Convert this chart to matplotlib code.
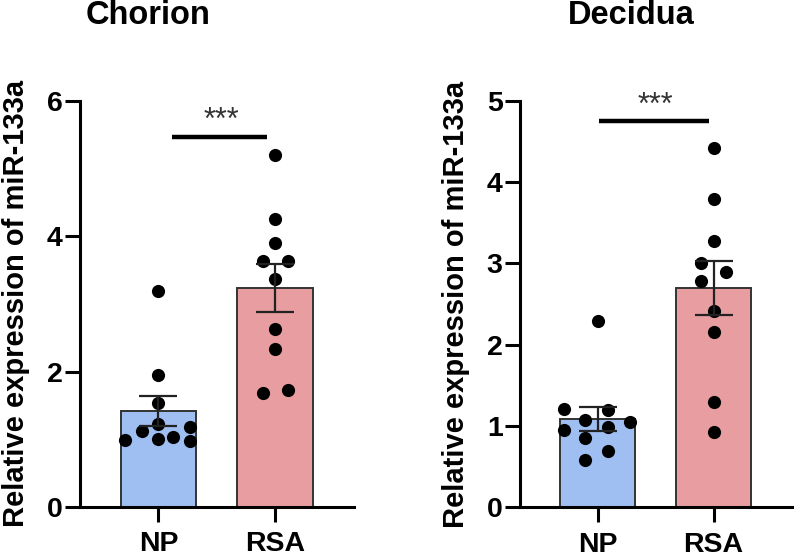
import matplotlib
matplotlib.use("Agg")
import matplotlib.pyplot as plt
import numpy as np

plt.rcParams['font.family'] = ['Liberation Sans', 'DejaVu Sans']
plt.rcParams['font.weight'] = 'bold'

groups = ["NP", "RSA"]
titles = ["Chorion", "Decidua"]
ylabel = "Relative expression of miR-133a"

chorion_np = [3.19, 1.95, 1.54, 1.23, 1.12, 0.985, 1.01, 1.04, 1.18, 0.975]
chorion_rsa = [5.20, 4.25, 3.90, 3.64, 3.63, 3.36, 2.63, 2.34, 1.68, 1.73]
chorion_jitter_np = [0, 0, 0, 0, -0.43, -0.86, 0, 0.38, 0.81, 0.81]
chorion_jitter_rsa = [0, 0, 0, -0.30, 0.33, 0, 0, 0, -0.30, 0.33]

decidua_np = [2.29, 1.205, 1.197, 1.074, 1.053, 0.951, 0.99, 0.849, 0.696, 0.582]
decidua_rsa = [4.42, 3.79, 3.27, 3.01, 2.89, 2.78, 2.41, 2.16, 1.30, 0.93]
decidua_jitter_np = [0, -0.86, 0.27, -0.32, 0.83, -0.86, 0.27, -0.32, 0.27, -0.32]
decidua_jitter_rsa = [0, 0, 0, -0.32, 0.33, -0.32, 0, 0, 0, 0]

yticks_list = [[0, 2, 4, 6], [0, 1, 2, 3, 4, 5]]
ylims = [6, 5]
sig_text = "***"

bar_colors = ["#9fbef2", "#e89da0"]

fig = plt.figure(figsize=(7.96, 5.6), dpi=100)
axes_rects = [[80/796, 1-507/560, 274/796, 406.3/560],
              [520/796, 1-507.3/560, 271.7/796, 406.6/560]]
title_x = [148/796, 631/796]
sig_lines = [(0.112, 0.929, 5.47, 5.70, 0.536), (0.011, 0.959, 4.75, 4.94, 0.5)]

datasets = [(chorion_np, chorion_rsa, chorion_jitter_np, chorion_jitter_rsa),
            (decidua_np, decidua_rsa, decidua_jitter_np, decidua_jitter_rsa)]

for i, (rect, data) in enumerate(zip(axes_rects, datasets)):
    ax = fig.add_axes(rect)
    np_vals, rsa_vals, jnp, jrsa = data
    vals = [np.array(np_vals), np.array(rsa_vals)]
    jit = [np.array(jnp), np.array(jrsa)]
    xs = np.arange(len(groups))
    means = [v.mean() for v in vals]
    sems = [v.std(ddof=1) / np.sqrt(len(v)) for v in vals]
    ax.bar(xs, means, width=0.65, color=bar_colors, edgecolor="#333333",
           linewidth=1.4, zorder=1)
    for k in range(2):
        ax.scatter(xs[k] + jit[k] * 0.335, vals[k], s=90, color="black",
                   zorder=3, linewidths=0)
        ax.errorbar(xs[k], means[k], yerr=sems[k], fmt='none', ecolor="#222222",
                    elinewidth=1.6, capsize=13.5, capthick=1.6, zorder=4)
    x0, x1, ly, sy, sx = sig_lines[i]
    ax.plot([x0, x1], [ly, ly], color="black", linewidth=3.2,
            solid_capstyle='butt', clip_on=False, zorder=5)
    ax.text(sx, sy, sig_text, ha='center', va='center', fontsize=22,
            fontweight='normal', color="#333333")
    ax.set_xlim(-0.672, 1.675)
    ax.set_ylim(0, ylims[i])
    ax.set_yticks(yticks_list[i])
    ax.set_yticklabels([str(t) for t in yticks_list[i]])
    ax.set_xticks(xs)
    ax.set_xticklabels(groups)
    for s in ["top", "right"]:
        ax.spines[s].set_visible(False)
    for s in ["left", "bottom"]:
        ax.spines[s].set_linewidth(2.2)
        ax.spines[s].set_color("black")
    ax.tick_params(axis='both', length=10.5, width=2.2, labelsize=20.5, color="black")
    ax.tick_params(axis='y', pad=2)
    ax.tick_params(axis='x', pad=7)
    for lab in ax.get_xticklabels() + ax.get_yticklabels():
        lab.set_fontweight('bold')
    ax.set_ylabel(ylabel, fontsize=21, fontweight='bold', labelpad=12)
    fig.text(title_x[i], 1 - 15/560, titles[i], ha='center', va='center',
             fontsize=23.5, fontweight='bold')

fig.savefig("out.png", dpi=100)
